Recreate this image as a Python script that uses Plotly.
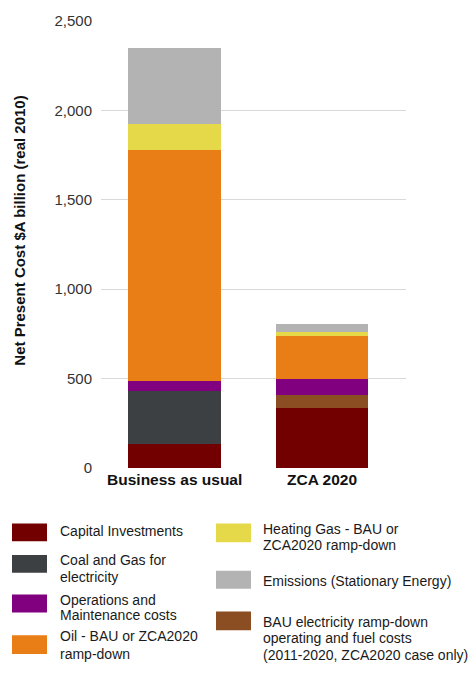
import plotly.graph_objects as go

# ---- data ----
categories = ["Business as usual", "ZCA 2020"]
capital_investments = [133, 338]
coal_gas_electricity = [299, 0]
bau_rampdown = [0, 72]
operations_maintenance = [56, 90]
oil = [1293, 239]
heating_gas = [142, 20]
emissions = [426, 46]

y_ticks = [0, 500, 1000, 1500, 2000, 2500]
y_tick_text = ["0", "500", "1,000", "1,500", "2,000", "2,500"]

# stacking order bottom -> top
series = [
    ("Capital Investments", capital_investments, "#730000"),
    ("Coal and Gas for electricity", coal_gas_electricity, "#3c4043"),
    ("BAU electricity ramp-down operating and fuel costs (2011-2020, ZCA2020 case only)", bau_rampdown, "#8b4d22"),
    ("Operations and Maintenance costs", operations_maintenance, "#800080"),
    ("Oil - BAU or ZCA2020 ramp-down", oil, "#e97e16"),
    ("Heating Gas - BAU or ZCA2020 ramp-down", heating_gas, "#e5d94a"),
    ("Emissions (Stationary Energy)", emissions, "#b3b3b3"),
]

W, H = 474, 673
L, R, T, B = 101, 406, 16, 468

fig = go.Figure()
for name, vals, col in series:
    fig.add_trace(go.Bar(x=categories, y=vals, name=name, marker_color=col,
                         marker_line_width=0, width=0.63, showlegend=False))

def pxx(p):
    return (p - L) / (R - L)

def pxy(p):
    return (B - p) / (B - T)

# custom legend: (series index, swatch x0, swatch y0, swatch y1, text x, line texts, line centers)
legend_items = [
    (0, 12, 524, 542, 59, ["Capital Investments"], [532]),
    (1, 12, 556, 574, 59, ["Coal and Gas for", "electricity"], [561, 578]),
    (3, 12, 596, 614, 59, ["Operations and", "Maintenance costs"], [601, 617]),
    (4, 12, 637, 656, 59, ["Oil - BAU or ZCA2020", "ramp-down"], [638, 656]),
    (5, 216, 524, 543, 262, ["Heating Gas - BAU or", "ZCA2020 ramp-down"], [530, 546]),
    (6, 216, 572, 590, 262, ["Emissions (Stationary Energy)"], [582]),
    (2, 216, 613, 632, 262, ["BAU electricity ramp-down", "operating and fuel costs",
                             "(2011-2020, ZCA2020 case only)"], [624, 640, 657]),
]

shapes = []
annotations = []
for idx, sx, sy0, sy1, tx, lines, centers in legend_items:
    col = series[idx][2]
    shapes.append(dict(type="rect", xref="paper", yref="paper",
                       x0=pxx(sx), x1=pxx(sx + 35), y0=pxy(sy1), y1=pxy(sy0),
                       fillcolor=col, line_width=0))
    for txt, cy in zip(lines, centers):
        annotations.append(dict(text=txt, xref="paper", yref="paper",
                                x=pxx(tx), y=pxy(cy), xanchor="left", yanchor="middle",
                                showarrow=False, borderpad=0,
                                font=dict(family="Liberation Sans, Arial", size=14, color="#1a1a1a")))

annotations.append(dict(text="<b>Net Present Cost $A billion (real 2010)</b>",
                        xref="paper", yref="paper", x=pxx(20), y=pxy(228),
                        xanchor="center", yanchor="middle", textangle=-90, showarrow=False,
                        font=dict(family="Liberation Sans, Arial", size=15, color="#111")))

fig.update_layout(
    width=W, height=H,
    margin=dict(l=L, r=W - R, t=T, b=H - B, pad=0),
    barmode="stack",
    plot_bgcolor="white", paper_bgcolor="white",
    font=dict(family="Liberation Sans, Arial", size=14, color="#222"),
    showlegend=False,
    shapes=shapes,
    annotations=annotations,
    xaxis=dict(range=[-0.5, 1.57], showgrid=False, zeroline=False, showline=False,
               tickfont=dict(size=15.5, color="#111"),
               tickvals=categories, ticktext=["<b>%s</b>" % c for c in categories]),
    yaxis=dict(range=[0, 2500], tickvals=y_ticks, ticktext=y_tick_text,
               showgrid=True, gridcolor="#d9d9d9", gridwidth=1, zeroline=False,
               showline=False, tickfont=dict(size=15, color="#333"),
               ticks="outside", ticklen=5, tickcolor="rgba(0,0,0,0)"),
)

fig.write_html("out.html",
               config={"displayModeBar": False},
               post_script="document.body.style.margin='0';document.body.style.overflow='hidden';")
